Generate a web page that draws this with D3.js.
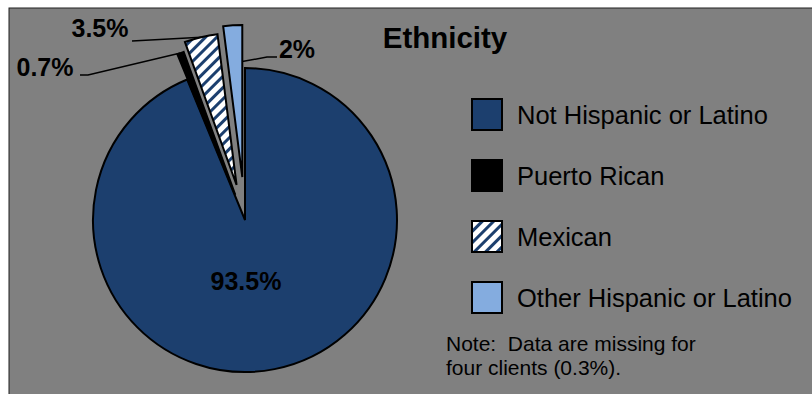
<!DOCTYPE html>
<html>
<head>
<meta charset="utf-8">
<script src="https://cdn.jsdelivr.net/npm/d3@7/dist/d3.min.js"></script>
<style>
  html, body { margin: 0; padding: 0; background: #ffffff; }
  svg { display: block; }
  text { font-family: "Liberation Sans", Arial, sans-serif; white-space: pre; }
</style>
</head>
<body>
<svg id="chart" width="812" height="394"></svg>
<script>
// Ethnicity breakdown of clients (percent)
const categories = ["Not Hispanic or Latino", "Puerto Rican", "Mexican", "Other Hispanic or Latino"];
const values = [93.5, 0.7, 3.5, 2];
const valueLabels = ["93.5%", "0.7%", "3.5%", "2%"];
const title = "Ethnicity";
const noteLines = ["Note:  Data are missing for", "four clients (0.3%)."];

// Styling / layout
const fills = ["#1c3f6e", "#000000", "url(#wideUpDiag)", "#84acdf"];
const explodeBy = [0, 27, 36, 43];
const cx = 245, cy = 220, radius = 152;

const svg = d3.select("#chart");

// Plot area background with a thin frame on top/left
svg.append("rect").attr("x", 9).attr("y", 8).attr("width", 812).attr("height", 400)
  .attr("fill", "#808080").attr("stroke", "#202020").attr("stroke-width", 1);

// Wide upward diagonal hatch used for the Mexican slice
const defs = svg.append("defs");
const pat = defs.append("pattern").attr("id", "wideUpDiag")
  .attr("patternUnits", "userSpaceOnUse").attr("width", 8).attr("height", 8)
  .attr("patternTransform", "rotate(45)");
pat.append("rect").attr("width", 8).attr("height", 8).attr("fill", "#ffffff");
pat.append("rect").attr("width", 3).attr("height", 8).attr("fill", "#1c3f6e");

const pie = d3.pie().sort(null).value(d => d).startAngle(0).endAngle(2 * Math.PI);
const arcs = pie(values);
const arc = d3.arc().innerRadius(0).outerRadius(radius);

function offset(d, i) {
  const mid = (d.startAngle + d.endAngle) / 2;
  return [explodeBy[i] * Math.sin(mid), -explodeBy[i] * Math.cos(mid)];
}

const g = svg.append("g").attr("transform", `translate(${cx},${cy})`);
g.selectAll("path.slice").data(arcs).join("path")
  .attr("class", "slice")
  .attr("d", arc)
  .attr("transform", (d, i) => { const o = offset(d, i); return `translate(${o[0]},${o[1]})`; })
  .attr("fill", (d, i) => fills[i])
  .attr("stroke", "#000")
  .attr("stroke-width", 2)
  .attr("stroke-linejoin", "miter");

// Point on an exploded slice at a given angle (relative to slice span) and radius fraction
function slicePoint(i, angleFrac, rFrac) {
  const d = arcs[i];
  const o = offset(d, i);
  const a = d.startAngle + (d.endAngle - d.startAngle) * angleFrac;
  return [cx + o[0] + radius * rFrac * Math.sin(a), cy + o[1] - radius * rFrac * Math.cos(a)];
}

// Label placement: text centre/baseline, leader start, optional elbow, anchor on slice
const labelLayout = [
  { x: 246, y: 290 },
  { x: 45, y: 76, from: [80, 75], elbow: [88, 75], anchor: [0.5, 1.0] },
  { x: 100, y: 37, from: [132, 41], anchor: [0.5, 1.0] },
  { x: 297, y: 58, from: [277, 57], elbow: [267, 57], anchor: [1.0, 0.76] }
];

labelLayout.forEach((L, i) => {
  if (L.from) {
    const pts = [L.from];
    if (L.elbow) pts.push(L.elbow);
    pts.push(slicePoint(i, L.anchor[0], L.anchor[1]));
    svg.append("path").attr("d", d3.line()(pts))
      .attr("fill", "none").attr("stroke", "#000").attr("stroke-width", 1.5);
  }
  svg.append("text").attr("x", L.x).attr("y", L.y)
    .attr("text-anchor", "middle")
    .attr("font-size", 25).attr("font-weight", "bold").attr("fill", "#000")
    .text(valueLabels[i]);
});

// Title
svg.append("text").attr("x", 445).attr("y", 48).attr("text-anchor", "middle")
  .attr("font-size", 29.5).attr("font-weight", "bold").attr("fill", "#000").text(title);

// Legend
const legendY = d3.scalePoint().domain(categories).range([99, 282]);
const lg = svg.append("g");
categories.forEach((c, i) => {
  const y = legendY(c);
  lg.append("rect").attr("x", 472).attr("y", y).attr("width", 30).attr("height", 31)
    .attr("fill", fills[i]).attr("stroke", "#000").attr("stroke-width", 2);
  lg.append("text").attr("x", 517).attr("y", y + 25)
    .attr("font-size", 25.5).attr("fill", "#000").text(c);
});

// Footnote
noteLines.forEach((t, i) => {
  svg.append("text").attr("x", 446).attr("y", 351 + i * 24)
    .attr("font-size", 21).attr("fill", "#000").text(t);
});
</script>
</body>
</html>
